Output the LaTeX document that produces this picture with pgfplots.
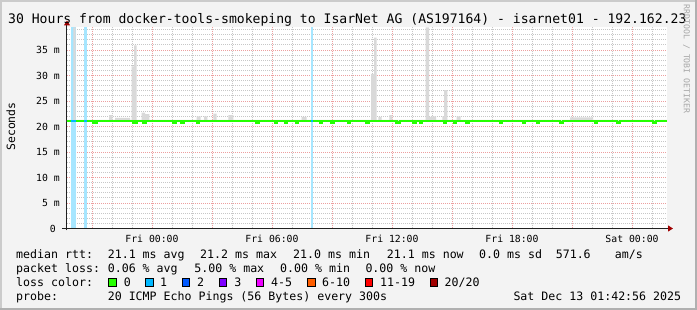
\documentclass[border=0pt]{standalone}
\usepackage{pgfplots}
\pgfplotsset{compat=1.18}
\usepackage{fontspec}
\setmainfont{DejaVu Sans Mono}
\usetikzlibrary{arrows.meta}
\definecolor{bg}{HTML}{F3F3F3}
\definecolor{shadeA}{HTML}{CBCBCB}
\definecolor{shadeB}{HTML}{B0B0B0}
\definecolor{axiscol}{HTML}{202020}
\definecolor{arrowc}{HTML}{A00000}
\definecolor{mgridbase}{HTML}{DE5050}
\definecolor{gridbase}{HTML}{8F8F8F}
\colorlet{mgrid}{mgridbase!55!white}
\colorlet{gridc}{gridbase!50!white}
\definecolor{smoke}{HTML}{D9D9D9}
\definecolor{lc0}{HTML}{26FF00}
\definecolor{lc1}{HTML}{00B8FF}
\definecolor{lc2}{HTML}{0059FF}
\definecolor{lc3}{HTML}{7E00FF}
\definecolor{lc4}{HTML}{EE00FF}
\definecolor{lc5}{HTML}{FF5E00}
\definecolor{lc6}{HTML}{FF0000}
\definecolor{lc7}{HTML}{A10000}
\colorlet{lossbg}{lc1!35!white}
\newcommand\fs[1]{\fontsize{#1}{#1}\selectfont}
\begin{document}
\begin{tikzpicture}[x=1pt,y=1pt,
  lg/.style={anchor=base west, inner sep=0pt, font=\fs{11.6}}]
\useasboundingbox (0,0) rectangle (697,310);
\clip (0,0) rectangle (697,310);
\fill[bg] (0,0) rectangle (697,310);
\fill[shadeA] (0,0) rectangle (2,310);
\fill[shadeA] (0,308) rectangle (697,310);
\fill[shadeB] (695,0) rectangle (697,310);
\fill[shadeB] (0,0) rectangle (697,2);

\begin{axis}[
  at={(67pt,81.5pt)}, anchor=south west,
  scale only axis, width=600pt, height=201pt,
  xmin=-4.25, xmax=25.75, ymin=0, ymax=39.4,
  axis x line=bottom, axis y line=left,
  axis line style={draw=axiscol, line width=1pt},
  x axis line style={shorten <=-5pt, shorten >=-6pt, -{Triangle[length=5pt,width=6pt,color=arrowc]}},
  y axis line style={shorten <=-2pt, shorten >=-7pt, -{Triangle[length=5pt,width=6pt,color=arrowc]}},
  axis background/.style={fill=white},
  grid=both,
  major grid style={draw=mgrid, line width=0.8pt, dash pattern=on 1pt off 1pt},
  minor grid style={draw=gridc, line width=0.8pt, dash pattern=on 1pt off 1pt},
  xtick={-3,0,3,6,9,12,15,18,21,24},
  xticklabels={,Fri 00:00,,Fri 06:00,,Fri 12:00,,Fri 18:00,,Sat 00:00},
  minor xtick={-4,-2,-1,1,2,4,5,7,8,10,11,13,14,16,17,19,20,22,23,25},
  ytick={0,5,10,15,20,25,30,35},
  yticklabels={0\kern4pt,5 m,10 m,15 m,20 m,25 m,30 m,35 m},
  minor ytick={1,2,3,4,6,7,8,9,11,12,13,14,16,17,18,19,21,22,23,24,26,27,28,29,31,32,33,34,36,37,38,39},
  major tick length=0pt, minor tick length=0pt,
  xticklabel style={font=\fs{9.8}, anchor=north, inner sep=0pt, yshift=-6.3pt},
  yticklabel style={font=\fs{9.8}, anchor=east, inner sep=0pt, xshift=-7pt},
]
% loss background bars (1/20 lost)
\addplot[fill=lossbg, draw=none] coordinates {(-4.05,0) (-4.05,39.4) (-3.815,39.4) (-3.815,0)} -- cycle;
\addplot[fill=lossbg, draw=none] coordinates {(-3.4,0) (-3.4,39.4) (-3.265,39.4) (-3.265,0)} -- cycle;
\addplot[fill=lossbg, draw=none] coordinates {(7.95,0) (7.95,39.4) (8.05,39.4) (8.05,0)} -- cycle;
% smoke (max of pings per 5 min step)
\addplot[const plot, fill=smoke, draw=none] coordinates {
 (-4.25,20.9) (-4.25,21.3) (-3.935,39.4) (-3.815,21.3)
 (-2.15,22.2) (-1.985,21.3) (-1.85,21.7) (-1.1,21.3)
 (-1.015,31.8) (-0.9,35.9) (-0.765,21.3)
 (-0.515,22.7) (-0.35,22.4) (-0.135,21.3)
 (2.235,22.0) (2.435,21.3) (2.6,22.0) (2.765,21.3)
 (3.065,22.5) (3.235,21.3) (3.815,22.2) (4.065,21.3)
 (7.485,21.9) (7.735,21.3)
 (10.95,30.3) (11.1,37.4) (11.235,21.3) (11.315,21.9) (11.485,21.3)
 (11.865,22.2) (12.015,21.3)
 (13.685,39.4) (13.85,21.9) (13.985,22.0) (14.2,21.3)
 (14.515,22.0) (14.6,27.1) (14.765,21.3)
 (15.235,22.0) (15.435,21.3)
 (20.9,21.8) (22.05,21.3)
 (25.75,20.9)} -- cycle;
% median rtt
\addplot[const plot, draw=lc0, line width=2.7pt] coordinates {
 (-4.25,21.1) (-2.935,20.8) (-2.765,21.1) (-0.935,20.8) (-0.765,21.1)
 (-0.435,20.8) (-0.335,21.1) (1.065,20.8) (1.2,21.1) (1.485,20.8) (1.6,21.1)
 (2.25,20.8) (2.35,21.1) (5.235,20.8) (5.315,21.1) (6.15,20.8) (6.25,21.1)
 (6.65,20.8) (6.75,21.1) (7.2,20.8) (7.3,21.1) (8.4,20.8) (8.5,21.1)
 (8.985,20.8) (9.065,21.1) (9.8,20.8) (9.9,21.1) (10.735,20.8) (10.85,21.1)
 (12.235,20.8) (12.4,21.1) (13.065,20.8) (13.2,21.1) (13.4,20.8) (13.485,21.1)
 (14.6,20.8) (14.7,21.1) (15.1,20.8) (15.2,21.1) (15.735,20.8) (15.85,21.1)
 (17.4,20.8) (17.5,21.1) (18.55,20.8) (18.65,21.1) (19.25,20.8) (19.35,21.1)
 (20.4,20.8) (20.55,21.1) (22.15,20.8) (22.25,21.1) (23.25,20.8) (23.4,21.1)
 (25.05,20.8) (25.2,21.1) (25.75,21.1)};
% median segments coloured by loss (1/20)
\addplot[draw=lc1, line width=2.7pt] coordinates {(-4.05,21.1) (-3.815,21.1)};
\addplot[draw=lc1, line width=2.7pt] coordinates {(-3.4,21.1) (-3.265,21.1)};
\addplot[draw=lc1, line width=2.7pt] coordinates {(7.95,21.1) (8.05,21.1)};
\end{axis}

% title and side texts
\node[anchor=base west, inner sep=0pt, font=\fs{13.1}] at (8,286) {30 Hours from docker-tools-smokeping to IsarNet AG (AS197164) - isarnet01 - 192.162.23};
\node[rotate=90, inner sep=0pt, font=\fs{11.4}] at (11,183.5) {Seconds};
\node[rotate=-90, inner sep=0pt, font=\fs{8.2}, text=black!35] at (686.5,251) {RRDTOOL / TOBI OETIKER};

% legend
\node[lg] at (16,51.7) {median rtt:};
\node[lg] at (107.6,51.7) {21.1 ms avg};
\node[lg] at (200,51.7) {21.2 ms max};
\node[lg] at (293,51.7) {21.0 ms min};
\node[lg] at (386.7,51.7) {21.1 ms now};
\node[lg] at (479,51.7) {0.0 ms sd};
\node[lg] at (555.6,51.7) {571.6};
\node[lg] at (614.7,51.7) {am/s};

\node[lg] at (16,37.7) {packet loss:};
\node[lg] at (107.6,37.7) {0.06 \% avg};
\node[lg] at (194.2,37.7) {5.00 \% max};
\node[lg] at (280,37.7) {0.00 \% min};
\node[lg] at (365.3,37.7) {0.00 \% now};

\node[lg] at (16,23.7) {loss color:};
\foreach \bx/\lx/\c/\t in {108.9/123.6/lc0/0, 145.8/160/lc1/1, 182.2/196.9/lc2/2, 219/234.2/lc3/3, 256.4/271/lc4/4-5, 307.6/322/lc5/6-10, 365.3/380/lc6/11-19, 430.2/444.4/lc7/20\slash20}{
  \filldraw[fill=\c, draw=black, line width=1pt] (\bx,23.8) rectangle ++(7.5,8);
  \node[lg] at (\lx,23.7) {\t};
}

\node[lg] at (16,9.7) {probe:};
\node[lg] at (107.6,9.7) {20 ICMP Echo Pings (56 Bytes) every 300s};
\node[lg] at (513.3,9.7) {Sat Dec 13 01:42:56 2025};
\end{tikzpicture}
\end{document}
